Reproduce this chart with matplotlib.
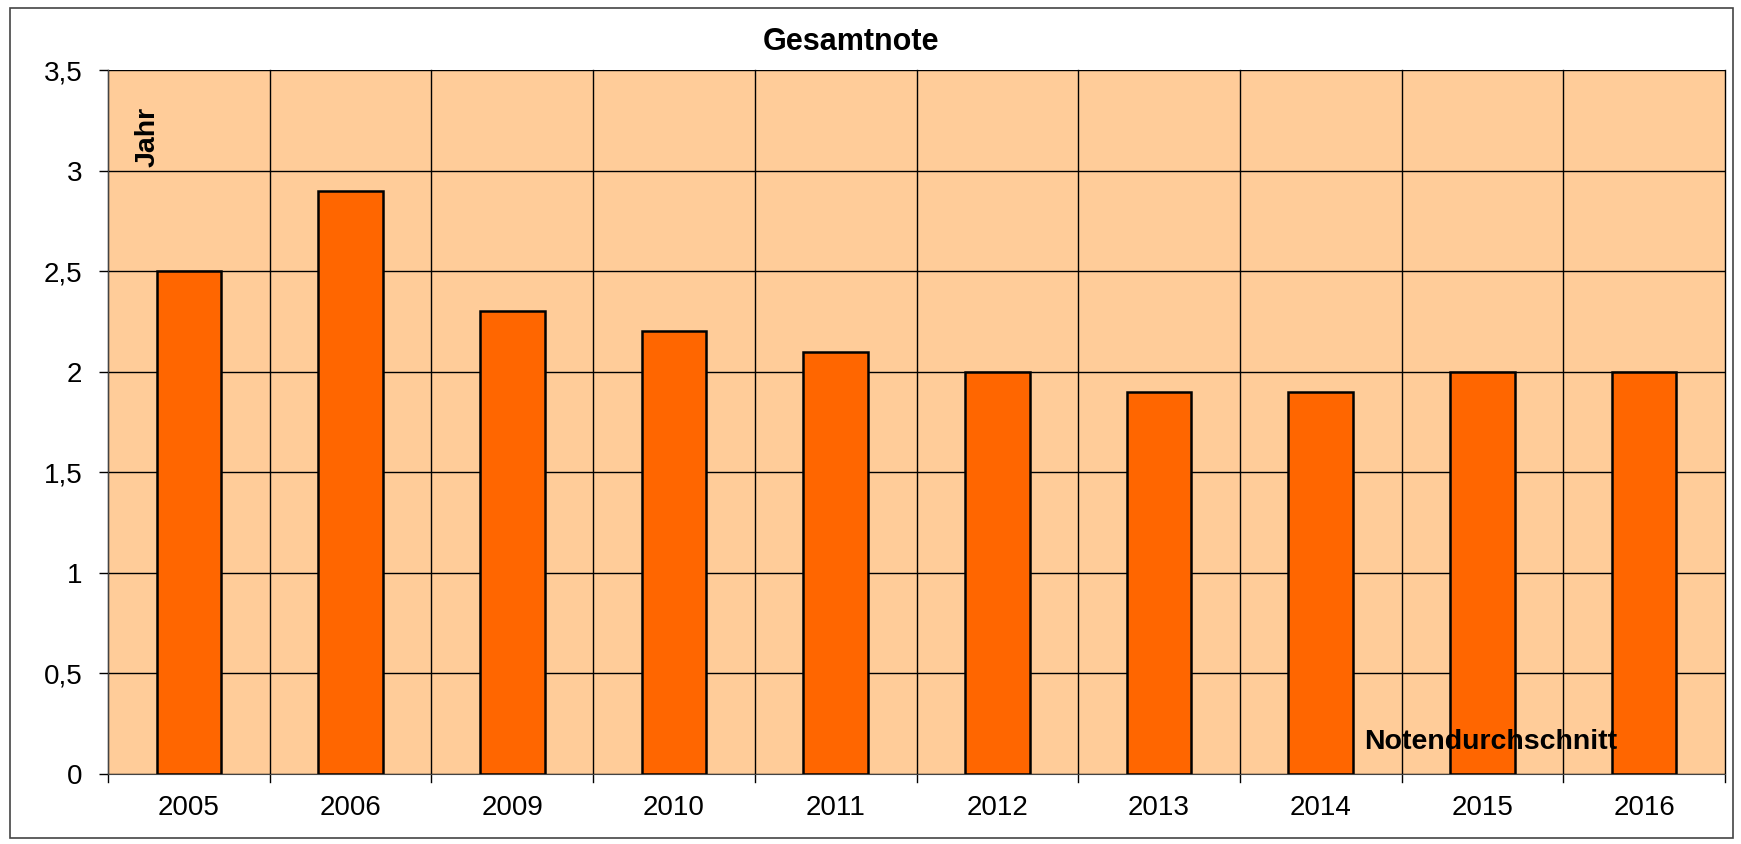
import matplotlib.pyplot as plt
from matplotlib.patches import Rectangle
import numpy as np

years = ["2005", "2006", "2009", "2010", "2011", "2012", "2013", "2014", "2015", "2016"]
noten = [2.5, 2.9, 2.3, 2.2, 2.1, 2.0, 1.9, 1.9, 2.0, 2.0]
yticks = [0, 0.5, 1, 1.5, 2, 2.5, 3, 3.5]
ytick_labels = ["0", "0,5", "1", "1,5", "2", "2,5", "3", "3,5"]

plt.rcParams['font.family'] = ['Liberation Sans', 'DejaVu Sans']

W, H = 1741, 844
fig = plt.figure(figsize=(W / 100, H / 100), dpi=100)
ax = fig.add_axes([108 / W, 1 - 774 / H, (1725 - 108) / W, (774 - 70) / H])

# outer chart frame
fig.patches.append(Rectangle((10 / W, 1 - 838 / H), (1733 - 10) / W, (838 - 8) / H,
                             transform=fig.transFigure, fill=False,
                             edgecolor='#444444', linewidth=1.2))

x = np.arange(len(years))
ax.set_facecolor('#FFCC99')
ax.bar(x, noten, width=0.4, color='#FF6600', edgecolor='black', linewidth=1.8, zorder=3)

ax.set_xlim(-0.5, len(years) - 0.5)
ax.set_ylim(0, 3.5)
ax.set_yticks(yticks)
ax.set_yticklabels(ytick_labels, fontsize=20)
ax.set_xticks(x)
ax.set_xticklabels(years, fontsize=20)
ax.tick_params(axis='x', length=0, pad=15)
ax.tick_params(axis='y', length=6.5, width=1, pad=12)

# grid
for yv in yticks:
    ax.axhline(yv, color='black', linewidth=1, zorder=1)
for b in np.arange(-0.5, len(years), 1):
    ax.plot([b, b], [-0.042, 3.5], color='black', linewidth=1, zorder=1, clip_on=False)

for s in ['top', 'right']:
    ax.spines[s].set_visible(False)
ax.spines['left'].set_color('#444444')
ax.spines['bottom'].set_color('#444444')

fig.text(851 / W, 1 - 42 / H, "Gesamtnote", ha='center', va='center',
         fontsize=22, fontweight='bold')
fig.text(148 / W, 1 - 137 / H, "Jahr", ha='center', va='center', rotation=90,
         fontsize=20.5, fontweight='bold')
fig.text(1491 / W, 1 - 742 / H, "Notendurchschnitt", ha='center', va='center',
         fontsize=20.5, fontweight='bold', zorder=5)

fig.savefig("out.png", dpi=100)
